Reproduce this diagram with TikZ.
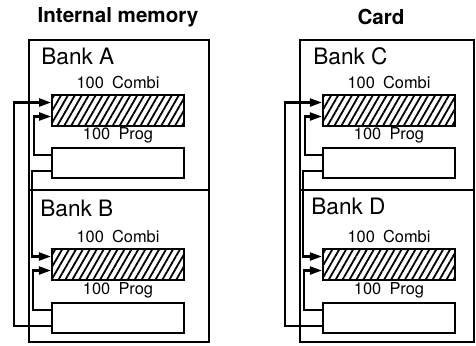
\documentclass[tikz,border=0pt]{standalone}
\usepackage{fontspec}
\setmainfont{TeX Gyre Heros}
\usetikzlibrary{positioning, arrows.meta, patterns.meta}

\begin{document}
\begin{tikzpicture}[
    x=0.5pt, y=-0.5pt,
    bank/.style={draw, line width=1pt},
    cell/.style={draw, line width=1.1pt, minimum width=66pt, minimum height=15.5pt, inner sep=0pt},
    combi/.style={cell, pattern={Lines[angle=60, distance=3pt, line width=0.9pt]}},
    prog/.style={cell, minimum height=15pt},
    title/.style={font=\fontsize{10.3}{12}\selectfont\bfseries},
    banklbl/.style={anchor=west, inner sep=0pt, font=\fontsize{11.3}{13}\selectfont},
    celllbl/.style={inner sep=0pt, font=\fontsize{8.2}{9}\selectfont},
    flow/.style={line width=1.1pt, -{Triangle[length=6pt, width=4pt]}}
  ]
  \useasboundingbox (0,0) rectangle (476,345);

  % Define nodes
  \node[title] (intmem) at (118,17) {Internal memory};
  \node[title] (card) at (381,17) {Card};
  %--
  \draw[bank] (29,40) rectangle (209,342);
  \draw[bank] (29,190) -- (209,190);
  \draw[bank] (300,40) rectangle (474,342);
  \draw[bank] (300,190) -- (474,190);
  %--
  \node[banklbl] (bankA) at (41,56) {Bank A};
  \node[combi] (combiA) at (118,110.5) {};
  \node[prog] (progA) at (118,163) {};
  \node[celllbl, above=2.5pt of combiA] (combiAlbl) {100\enspace Combi};
  \node[celllbl, above=1.5pt of progA] (progAlbl) {100\enspace Prog};
  %--
  \node[banklbl] (bankB) at (40,208) {Bank B};
  \node[combi] (combiB) at (118,264.5) {};
  \node[prog] (progB) at (118,318) {};
  \node[celllbl, above=2.5pt of combiB] (combiBlbl) {100\enspace Combi};
  \node[celllbl, above=1.5pt of progB] (progBlbl) {100\enspace Prog};
  %--
  \node[banklbl] (bankC) at (313,56) {Bank C};
  \node[combi] (combiC) at (389,110.5) {};
  \node[prog] (progC) at (389,163) {};
  \node[celllbl, above=2.5pt of combiC] (combiClbl) {100\enspace Combi};
  \node[celllbl, above=1.5pt of progC] (progClbl) {100\enspace Prog};
  %--
  \node[banklbl] (bankD) at (311,206) {Bank D};
  \node[combi] (combiD) at (389,264.5) {};
  \node[prog] (progD) at (389,318) {};
  \node[celllbl, above=2.5pt of combiD] (combiDlbl) {100\enspace Combi};
  \node[celllbl, above=1.5pt of progD] (progDlbl) {100\enspace Prog};

  % Connect the nodes
  \draw[flow] ([yshift=4pt]progA.west) -- ++(-17,0) |- ([yshift=-3pt]combiA.west);
  \draw[flow] ([yshift=-4pt]progA.west) -- ++(-19,0) |- ([yshift=4pt]combiB.west);
  \draw[flow] ([yshift=4pt]progB.west) -- ++(-18,0) |- ([yshift=-3pt]combiB.west);
  \draw[flow] ([yshift=-4pt]progB.west) -- ++(-37,0) |- ([yshift=4pt]combiA.west);
  %--
  \draw[flow] ([yshift=4pt]progC.west) -- ++(-17,0) |- ([yshift=-3pt]combiC.west);
  \draw[flow] ([yshift=-4pt]progC.west) -- ++(-19,0) |- ([yshift=4pt]combiD.west);
  \draw[flow] ([yshift=4pt]progD.west) -- ++(-18,0) |- ([yshift=-3pt]combiD.west);
  \draw[flow] ([yshift=-4pt]progD.west) -- ++(-37,0) |- ([yshift=4pt]combiC.west);
\end{tikzpicture}
\end{document}
